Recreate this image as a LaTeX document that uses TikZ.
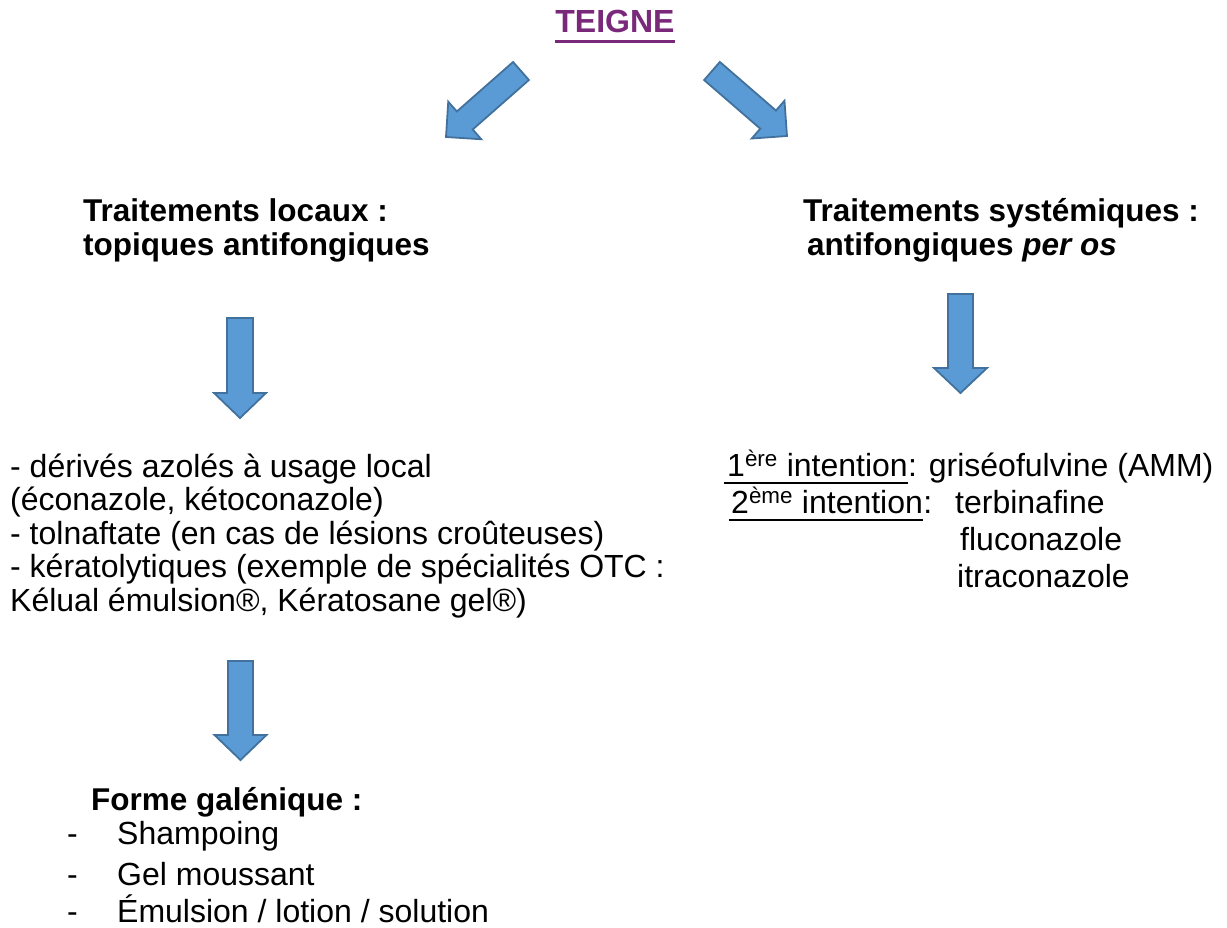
\documentclass[tikz,border=0pt]{standalone}
\usepackage{fontspec}
\setmainfont{Liberation Sans}
\usetikzlibrary{calc}
\definecolor{tpurple}{RGB}{122,40,121}
\definecolor{afill}{RGB}{91,155,213}
\definecolor{aline}{RGB}{65,113,156}
\tikzset{
  body/.style={anchor=base west, inner sep=0pt, font=\fontsize{32}{37}\selectfont},
  headtxt/.style={anchor=base west, inner sep=0pt, font=\fontsize{31.5}{37}\selectfont\bfseries},
  barrow/.style={fill=afill, draw=aline, line width=1.8pt, line join=miter},
  uline/.style={line width=1.8pt},
}
\newcommand\blockarrow[5]{%
  \path ($(#2)!#5!(#1)$) coordinate (neck);
  \filldraw[barrow] ($(#1)!#3!90:(#2)$) -- ($(neck)!#3!90:(#2)$) -- ($(neck)!#4!90:(#2)$) -- (#2)
    -- ($(neck)!#4!-90:(#2)$) -- ($(neck)!#3!-90:(#2)$) -- ($(#1)!#3!-90:(#2)$) -- cycle;
}
\begin{document}
\begin{tikzpicture}[x=1pt, y=-1pt]
  \useasboundingbox (0,0) rectangle (1227,928);
  % title
  \node[anchor=base, inner sep=0pt, font=\fontsize{32}{37}\selectfont\bfseries, text=tpurple] (title) at (615,33) {TEIGNE};
  \draw[tpurple, line width=3pt] ([yshift=-8.5pt]title.base west) -- ([yshift=-8.5pt]title.base east);

  % arrow end points
  \coordinate (a1s) at (521,71);   \coordinate (a1e) at (446,137);
  \coordinate (a2s) at (712,71);   \coordinate (a2e) at (787,136);
  \coordinate (a3s) at (240,318);  \coordinate (a3e) at (240,418);
  \coordinate (a4s) at (960.5,294);\coordinate (a4e) at (960.5,393);
  \coordinate (a5s) at (240.5,661);\coordinate (a5e) at (240.5,760);
  \blockarrow{a1s}{a1e}{12pt}{25pt}{25pt}
  \blockarrow{a2s}{a2e}{12pt}{25pt}{25pt}
  \blockarrow{a3s}{a3e}{13pt}{26pt}{25pt}
  \blockarrow{a4s}{a4e}{12.5pt}{26.5pt}{25pt}
  \blockarrow{a5s}{a5e}{12.5pt}{26pt}{25pt}

  % headings
  \node[headtxt] (loc1) at (83,222) {Traitements locaux :};
  \node[headtxt] (loc2) at (83,256) {topiques antifongiques};
  \node[headtxt] (sys1) at (803,222) {Traitements systémiques :};
  \node[headtxt] (sys2) at (807,256) {antifongiques \textit{per os}};

  % left list
  \node[body] (l1) at (10,477) {- dérivés azolés à usage local};
  \node[body] (l2) at (10,510.5) {(éconazole, kétoconazole)};
  \node[body] (l3) at (10,544) {- tolnaftate (en cas de lésions croûteuses)};
  \node[body] (l4) at (10,577.5) {- kératolytiques (exemple de spécialités OTC :};
  \node[body] (l5) at (10,611) {Kélual émulsion®, Kératosane gel®)};

  % right block
  \node[body] (r1a) at (727,476) {1\textsuperscript{ère} intention };
  \node[body] (r1b) at (r1a.base east) {: griséofulvine (AMM)};
  \draw[uline] ([yshift=-7pt,xshift=-3pt]r1a.base west) -- ([yshift=-7pt]r1a.base east);
  \node[body] (r2a) at (731,513) {2\textsuperscript{ème} intention };
  \node[body] (r2b) at (r2a.base east) {:};
  \draw[uline] ([yshift=-7pt,xshift=-2pt]r2a.base west) -- ([yshift=-7pt]r2a.base east);
  \node[body] (r2c) at (955,513) {terbinafine};
  \node[body] (r3) at (960,550) {fluconazole};
  \node[body] (r4) at (957,587) {itraconazole};

  % galenic forms
  \node[headtxt] (gal) at (91,810) {Forme galénique :};
  \node[body] (d1) at (67,844) {-};  \node[body] (g1) at (117,844) {Shampoing};
  \node[body] (d2) at (67,885) {-};  \node[body] (g2) at (117,885) {Gel moussant};
  \node[body] (d3) at (67,922) {-};  \node[body] (g3) at (117,922) {Émulsion / lotion / solution};
\end{tikzpicture}
\end{document}
